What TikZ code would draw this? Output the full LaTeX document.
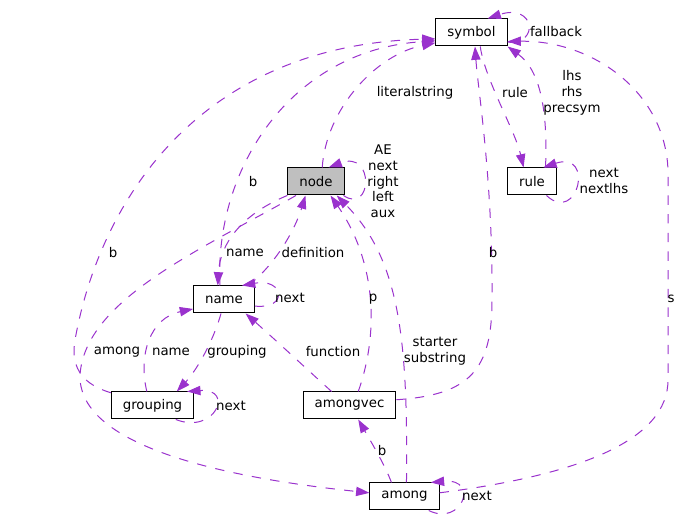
\documentclass[tikz,border=0pt]{standalone}
\usepackage{fontspec}
\setmainfont{DejaVu Sans}
\usetikzlibrary{arrows.meta}
\definecolor{edge-purple}{RGB}{154,50,205}
\definecolor{box-grey}{RGB}{191,191,191}
\tikzset{
  box/.style={draw=black, fill=white, line width=0.75pt, minimum height=20.25pt,
              inner xsep=8.6pt, inner ysep=0pt},
  link/.style={draw=edge-purple, line width=0.75pt, dash pattern=on 7pt off 7pt,
               -{Triangle[length=10pt,width=7pt]}},
  lbl/.style={black, align=center, inner sep=0pt},
}
\begin{document}
\begin{tikzpicture}[x=0.75pt, y=-0.75pt, font=\fontsize{10pt}{11.8pt}\selectfont]
  \useasboundingbox (0,0) rectangle (687,523);

  \node[box] (symbol) at (471.5,32.5) {symbol};
  \node[box, fill=box-grey] (nd) at (316,181.5) {node};
  \node[box] (rule) at (532,181.5) {rule};
  \node[box] (name) at (224,299.5) {name};
  \node[box] (grouping) at (152.5,405.5) {grouping};
  \node[box] (amongvec) at (349.5,405.5) {amongvec};
  \node[box] (among) at (404.5,496.5) {among};

  % into symbol
  \draw[link] (nd.66) .. controls (326,110) and (375,55) .. (symbol.196) node[lbl] at (415,93) {literalstring};
  \draw[link] (name.106) .. controls (214,170) and (290,50) .. (symbol.193) node[lbl] at (253,182) {b};
  \draw[link] (grouping.163) .. controls (85,385) and (70,370) .. (75,340)
     .. controls (100,200) and (200,45) .. (symbol.190) node[lbl] at (113,253) {b};
  \draw[link] (amongvec.7) .. controls (470,395) and (492,370) .. (492,300)
     .. controls (493,180) and (478,90) .. (symbol.284) node[lbl] at (493,253) {b};
  \draw[link] (rule.46) .. controls (548,110) and (540,70) .. (symbol.south east) node[lbl] at (572,93) {lhs\\rhs\\precsym};
  \draw[link] (among.6) .. controls (580,475) and (668,440) .. (668,380) -- (668,170)
     .. controls (665,90) and (590,40) .. (symbol.-14) node[lbl] at (671,299) {s};
  \draw[link] (symbol.-15) .. controls (540,45) and (535,3) .. (symbol.41) node[lbl] at (556,32) {fallback};

  % rule
  \draw[link] (symbol.302) .. controls (485,80) and (515,130) .. (rule.121) node[lbl] at (515,93) {rule};
  \draw[link] (rule.316) .. controls (578,225) and (595,150) .. (rule.51) node[lbl] at (604,181) {next\\nextlhs};

  % node
  \draw[link] (nd.333) .. controls (372,215) and (375,150) .. (nd.48) node[lbl] at (383,181.5) {AE\\next\\right\\left\\aux};
  \draw[link] (nd.215) .. controls (200,250) and (85,300) .. (80,375)
     .. controls (78,440) and (200,475) .. (among.174) node[lbl] at (117,352) {among};
  \draw[link] (nd.206) .. controls (240,215) and (220,245) .. (name.114) node[lbl] at (245,253) {name};

  % name
  \draw[link] (name.30) .. controls (275,265) and (295,230) .. (nd.233) node[lbl] at (313,253) {definition};
  \draw[link] (name.348) .. controls (288,310) and (285,278) .. (name.38) node[lbl] at (290,298) {next};
  \draw[link] (name.258) .. controls (212,345) and (195,372) .. (grouping.30) node[lbl] at (237,352) {grouping};

  % grouping
  \draw[link] (grouping.112) .. controls (138,355) and (150,318) .. (name.197) node[lbl] at (171,352) {name};
  \draw[link] (grouping.329) .. controls (215,435) and (235,388) .. (grouping.22) node[lbl] at (231,406) {next};

  % amongvec
  \draw[link] (amongvec.58) .. controls (380,330) and (375,260) .. (nd.316) node[lbl] at (373,299) {p};
  \draw[link] (amongvec.142) .. controls (310,372) and (270,335) .. (name.327) node[lbl] at (333,352) {function};

  % among
  \draw[link] (among.82) .. controls (408,340) and (400,260) .. (nd.326) node[lbl] at (435,351.5) {starter\\substring};
  \draw[link] (among.133) .. controls (385,465) and (370,440) .. (amongvec.302) node[lbl] at (382,451) {b};
  \draw[link] (among.330) .. controls (462,527) and (480,478) .. (among.28) node[lbl] at (477,496) {next};
\end{tikzpicture}
\end{document}
